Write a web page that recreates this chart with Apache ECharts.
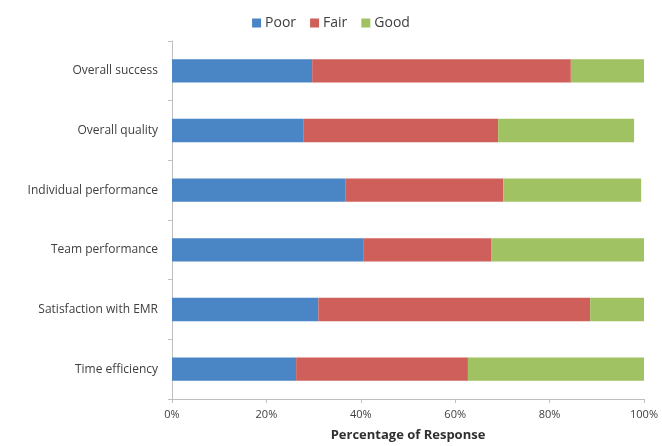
<!DOCTYPE html>
<html>
<head>
<meta charset="utf-8">
<script src="https://cdn.jsdelivr.net/npm/echarts@6/dist/echarts.min.js"></script>
<style>
  html, body { margin: 0; padding: 0; background: #fff; }
  #chart { width: 662px; height: 446px; }
</style>
</head>
<body>
<div id="chart"></div>
<script>
// categories, top to bottom
const categories = ['Overall success', 'Overall quality', 'Individual performance', 'Team performance', 'Satisfaction with EMR', 'Time efficiency']
// percentages
const poor = [29.7, 27.8, 36.7, 40.5, 31.0, 26.3]
const fair = [54.8, 41.3, 33.5, 27.1, 57.6, 36.4]
const good = [15.5, 28.8, 29.2, 32.4, 11.4, 37.3]
const tickLabels = ['0%', '20%', '40%', '60%', '80%', '100%']

const chart = echarts.init(document.getElementById('chart'))
const font = '"Open Sans", sans-serif'

function bar(name, data, color) {
  return {
    name: name,
    type: 'bar',
    stack: 'total',
    barWidth: '39%',
    itemStyle: { color: color },
    data: data
  }
}

const option = {
  animation: false,
  textStyle: { fontFamily: font },
  legend: {
    top: 11,
    left: 'center',
    itemWidth: 9,
    itemHeight: 9,
    itemGap: 14,
    icon: 'rect',
    textStyle: { fontSize: 14, color: '#404040', fontFamily: font, padding: [0, 0, 0, -1] },
    data: ['Poor', 'Fair', 'Good']
  },
  grid: { left: 172, right: 18, top: 41, bottom: 47, outerBoundsMode: 'none' },
  xAxis: {
    type: 'value',
    min: 0,
    max: 100,
    interval: 20,
    name: 'Percentage of Response',
    nameLocation: 'middle',
    nameGap: 30,
    nameTextStyle: { fontWeight: 'bold', fontSize: 13, color: '#303030', fontFamily: font },
    axisLine: { show: true, lineStyle: { color: '#bfbfbf' } },
    axisTick: { show: true, length: 4, lineStyle: { color: '#bfbfbf' } },
    splitLine: { show: false },
    axisLabel: {
      color: '#404040',
      fontSize: 11,
      margin: 10,
      formatter: function (v) { return tickLabels[Math.round(v / 20)] }
    }
  },
  yAxis: {
    type: 'category',
    inverse: true,
    data: categories,
    axisLine: { show: true, lineStyle: { color: '#bfbfbf' } },
    axisTick: { show: true, length: 4, lineStyle: { color: '#bfbfbf' } },
    axisLabel: { color: '#404040', fontSize: 12, margin: 14 }
  },
  series: [
    bar('Poor', poor, '#4a85c5'),
    bar('Fair', fair, '#cf5f5a'),
    bar('Good', good, '#a0c262')
  ]
}
chart.setOption(option)
</script>
</body>
</html>
